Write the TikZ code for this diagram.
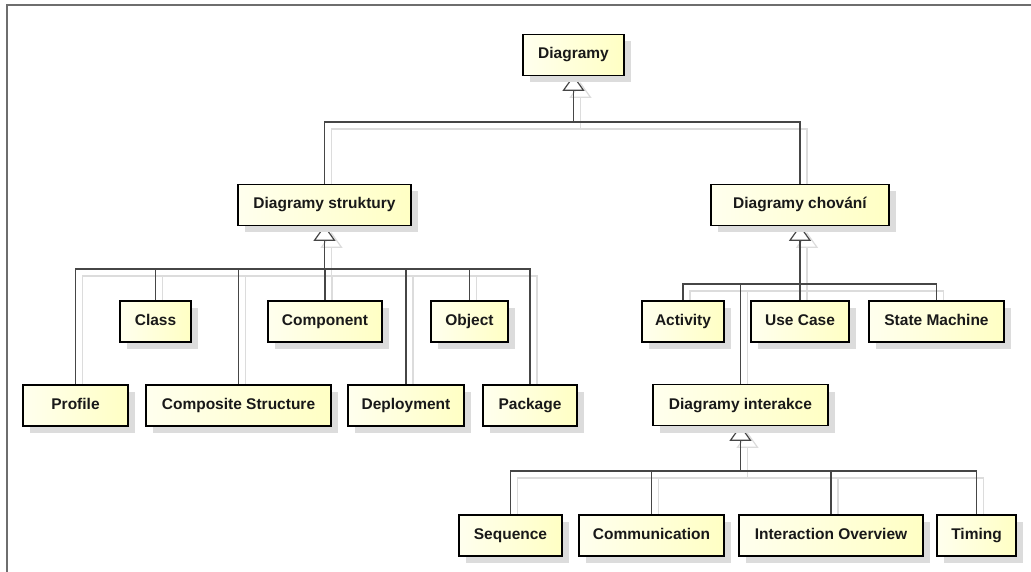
\documentclass[tikz,border=0pt]{standalone}
\usepackage{fontspec}
\setmainfont{Liberation Sans}
\usetikzlibrary{shadows,calc}

\pgfdeclarelayer{linkshadow}
\pgfdeclarelayer{links}
\pgfsetlayers{linkshadow,links,main}

\definecolor{linkgray}{RGB}{70,70,70}
\definecolor{shadegray}{RGB}{220,220,220}
\definecolor{boxcream}{RGB}{255,255,238}
\definecolor{boxyellow}{RGB}{255,255,196}
\definecolor{framegray}{RGB}{110,110,110}

\tikzset{
  umlbox/.style={draw=black, line width=1.6pt, minimum height=41pt, inner sep=0pt,
    text height=11.5pt, text depth=3.5pt,
    left color=boxcream, right color=boxyellow,
    font=\fontsize{15.5}{18}\selectfont\bfseries, text=black!90,
    drop shadow={shadow xshift=7pt, shadow yshift=-7pt, fill=shadegray, opacity=1}},
  link/.style={draw=linkgray, line width=1.2pt},
  linkshade/.style={draw=shadegray, line width=1.2pt},
}

% generalization: children join a horizontal bus, which rises to an open
% triangle under the parent
% #1 line style, #2 parent, #3 bus y, #4 children
\newcommand\genlinks[4]{%
  \foreach \c in {#4}{\draw[#1] (\c.north) -- (\c.north |- 0,#3) -- (#2.south |- 0,#3);}
  \draw[#1] (#2.south |- 0,#3) -- ($(#2.south)+(0,14)$);
  \draw[#1, fill=white, line join=miter] (#2.south) -- ++(-10,14) -- ++(20,0) -- cycle;
}

\newcommand\alllinks[1]{%
  \genlinks{#1}{diagramy}{122}{strukt,chovani}
  \genlinks{#1}{strukt}{269}{profile,class,composite,component,deployment,object,package}
  \genlinks{#1}{chovani}{284}{activity,usecase,statemachine,interakce}
  \genlinks{#1}{interakce}{471}{sequence,communication,overview,timing}
}

\begin{document}
\begin{tikzpicture}[x=1pt,y=-1pt]
\useasboundingbox (0,0) rectangle (1031,572);

% frame edges
\draw[framegray, line width=1.5pt] (7,572) -- (7,5) -- (1031,5);

% root
\node[umlbox, minimum width=101pt] (diagramy) at (573.5,55) {Diagramy};

% second level
\node[umlbox, minimum width=173pt] (strukt) at (324.5,205) {Diagramy struktury};
\node[umlbox, minimum width=178pt] (chovani) at (800,205) {Diagramy chování};

% structure diagrams
\node[umlbox, minimum width=71pt]  (class)     at (155.5,321.5) {Class};
\node[umlbox, minimum width=114pt] (component) at (325,321.5)   {Component};
\node[umlbox, minimum width=77pt]  (object)    at (469.5,321.5) {Object};
\node[umlbox, minimum width=105pt] (profile)   at (75.5,405.5)  {Profile};
\node[umlbox, minimum width=185pt] (composite) at (238.5,405.5) {Composite Structure};
\node[umlbox, minimum width=116pt] (deployment) at (406,405.5)  {Deployment};
\node[umlbox, minimum width=94pt]  (package)   at (530,405.5)   {Package};

% behaviour diagrams
\node[umlbox, minimum width=82pt]  (activity)     at (683,321.5)   {Activity};
\node[umlbox, minimum width=98pt]  (usecase)      at (800,321.5)   {Use Case};
\node[umlbox, minimum width=135pt] (statemachine) at (936.5,321.5) {State Machine};
\node[umlbox, minimum width=175pt] (interakce)    at (740.5,405)   {Diagramy interakce};

% interaction diagrams
\node[umlbox, minimum width=103pt] (sequence)      at (510.5,535.5) {Sequence};
\node[umlbox, minimum width=145pt] (communication) at (651.5,535.5) {Communication};
\node[umlbox, minimum width=184pt] (overview)      at (831,535.5)   {Interaction Overview};
\node[umlbox, minimum width=79pt]  (timing)        at (976.5,535.5) {Timing};

% connector shadows
\begin{pgfonlayer}{linkshadow}
  \begin{scope}[transform canvas={xshift=7pt,yshift=-7pt}]
    \alllinks{linkshade}
  \end{scope}
\end{pgfonlayer}

% connectors
\begin{pgfonlayer}{links}
  \alllinks{link}
\end{pgfonlayer}
\end{tikzpicture}
\end{document}
